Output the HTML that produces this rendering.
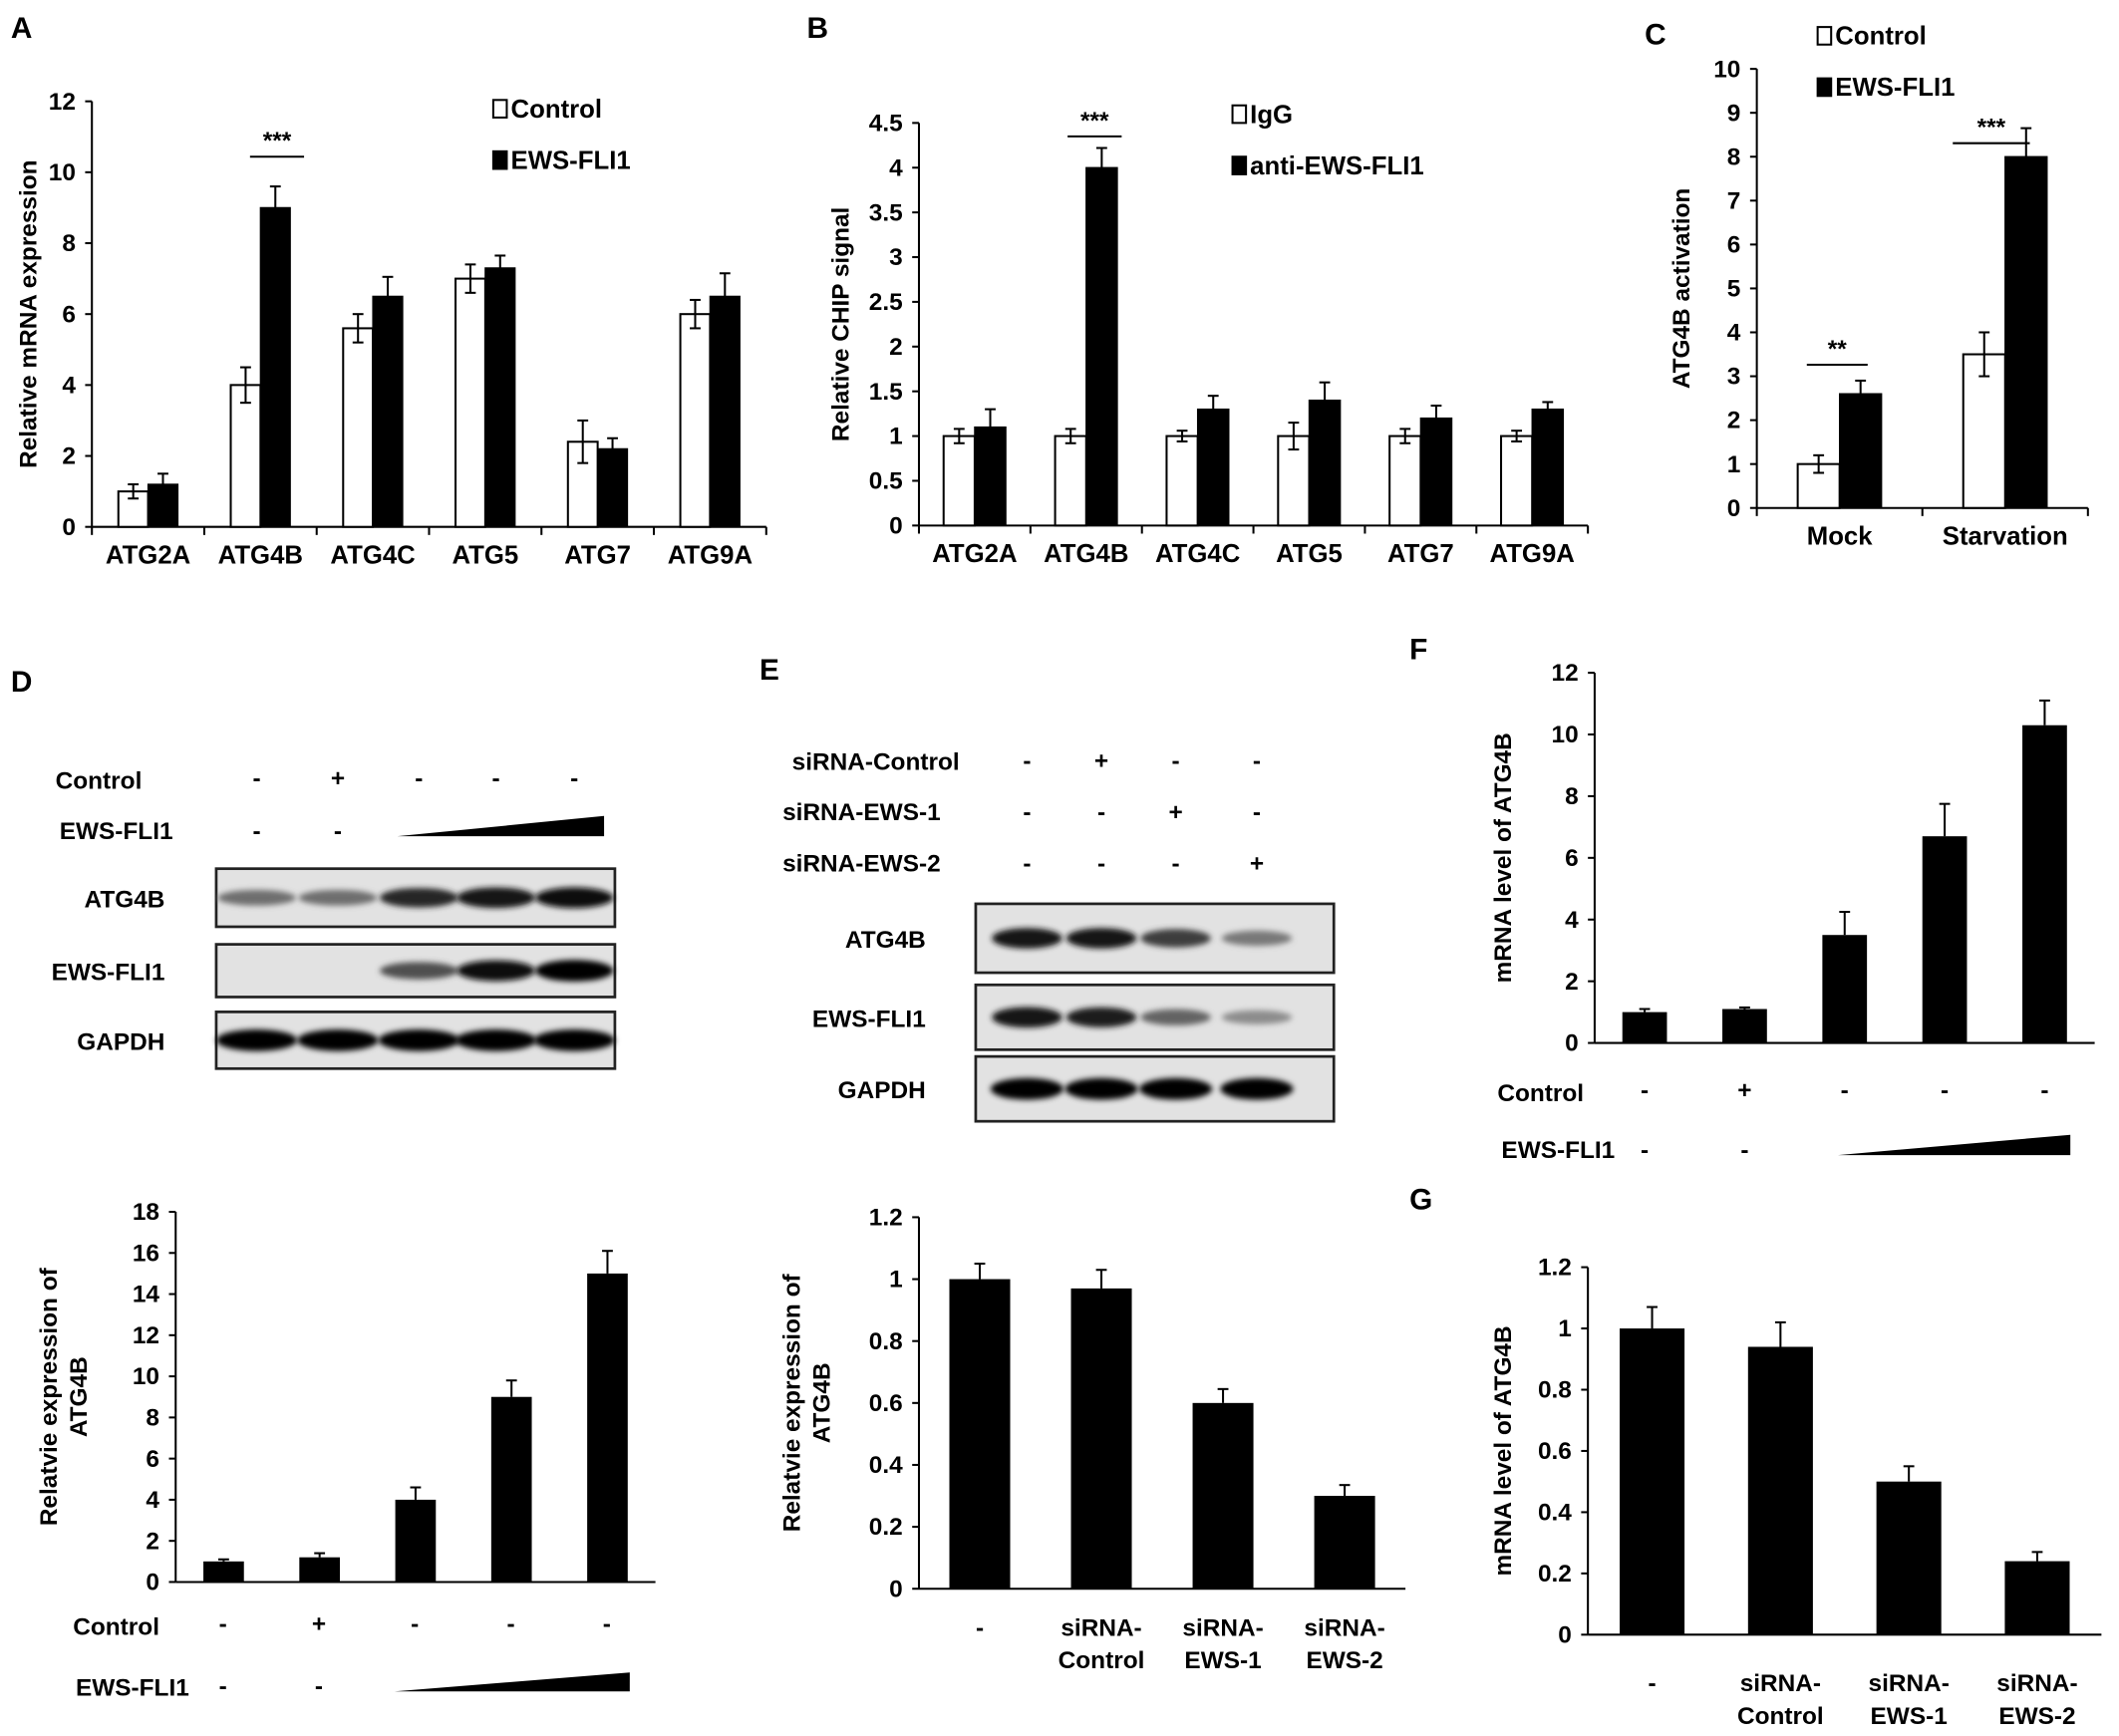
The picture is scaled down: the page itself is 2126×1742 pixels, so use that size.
<!DOCTYPE html>
<html><head><meta charset="utf-8"><style>
html,body{margin:0;padding:0;background:#fff;}
svg{display:block;font-family:"Liberation Sans",Arial,sans-serif;font-weight:bold;}
</style></head><body>
<svg id="fig" width="2126" height="1742" viewBox="0 0 1568 1285" preserveAspectRatio="none" xmlns="http://www.w3.org/2000/svg">
<defs><filter id="blur" x="-20%" y="-50%" width="140%" height="200%"><feGaussianBlur stdDeviation="2.2"/></filter></defs>
<g id="root"></g>
</svg>
<script>
// Panel A data
const aCats=["ATG2A","ATG4B","ATG4C","ATG5","ATG7","ATG9A"];
const aCtrl=[1,4,5.6,7,2.4,6];
const aEws=[1.2,9,6.5,7.3,2.2,6.5];
const aCtrlErr=[0.2,0.5,0.4,0.4,0.6,0.4];
const aEwsErr=[0.3,0.6,0.55,0.35,0.3,0.65];
const aTicks=[0,2,4,6,8,10,12];
// Panel B data
const bCats=["ATG2A","ATG4B","ATG4C","ATG5","ATG7","ATG9A"];
const bCtrl=[1,1,1,1,1,1];
const bEws=[1.1,4,1.3,1.4,1.2,1.3];
const bCtrlErr=[0.08,0.08,0.06,0.15,0.08,0.06];
const bEwsErr=[0.2,0.22,0.15,0.2,0.14,0.08];
const bTicks=[0,0.5,1,1.5,2,2.5,3,3.5,4,4.5];
// Panel C data
const cCats=["Mock","Starvation"];
const cCtrl=[1,3.5];
const cEws=[2.6,8];
const cCtrlErr=[0.2,0.5];
const cEwsErr=[0.3,0.65];
const cTicks=[0,1,2,3,4,5,6,7,8,9,10];
// Panel D chart
const dVals=[1,1.2,4,9,15];
const dErr=[0.1,0.2,0.6,0.8,1.1];
const dTicks=[0,2,4,6,8,10,12,14,16,18];
// Panel E chart
const eCats=["-","siRNA-\nControl","siRNA-\nEWS-1","siRNA-\nEWS-2"];
const eVals=[1,0.97,0.6,0.3];
const eErr=[0.05,0.06,0.045,0.035];
const eTicks=[0,0.2,0.4,0.6,0.8,1,1.2];
// Panel F chart
const fVals=[1,1.1,3.5,6.7,10.3];
const fErr=[0.1,0.05,0.75,1.05,0.8];
const fTicks=[0,2,4,6,8,10,12];
// Panel G chart
const gCats=["-","siRNA-\nControl","siRNA-\nEWS-1","siRNA-\nEWS-2"];
const gVals=[1,0.94,0.5,0.24];
const gErr=[0.07,0.08,0.05,0.03];
const gTicks=[0,0.2,0.4,0.6,0.8,1,1.2];
// Blots
const dBlotATG4B=[0.45,0.45,0.8,0.9,0.92];
const dBlotEWS=[0.03,0.03,0.6,0.92,1];
const dBlotGAPDH=[1,1,1,1,1];
const eBlotATG4B=[0.9,0.9,0.7,0.4];
const eBlotEWS=[0.9,0.85,0.5,0.3];
const eBlotGAPDH=[1,1,1,1];

const NS="http://www.w3.org/2000/svg";
const root=document.getElementById('root');
function el(tag,attrs,parent,text){const e=document.createElementNS(NS,tag);for(const k in attrs)e.setAttribute(k,attrs[k]);if(text!==undefined)e.textContent=text;(parent||root).appendChild(e);return e;}
function txt(x,y,s,size,anchor,name,parent,rot){const t=el('text',{x:x,y:y,'font-size':size,'text-anchor':anchor||'start'},parent,s);


if(rot)t.setAttribute('transform','rotate(-90 '+x+' '+y+')');return t;}

function axes(cfg){
 const g=el('g',{});
 
 
 const ys=v=>cfg.y0-(v-cfg.tMin)/(cfg.tMax-cfg.tMin)*(cfg.y0-cfg.yTop);
 el('line',{x1:cfg.x0,y1:cfg.yTop,x2:cfg.x0,y2:cfg.y0,stroke:'#000','stroke-width':1.5},g);
 el('line',{x1:cfg.x0,y1:cfg.y0,x2:cfg.x1,y2:cfg.y0,stroke:'#000','stroke-width':1.5},g);
 cfg.ticks.forEach(v=>{const y=ys(v);el('line',{x1:cfg.x0-5,y1:y,x2:cfg.x0,y2:y,stroke:'#000','stroke-width':1.5},g);
  txt(cfg.x0-12,y+6,String(v),18,'end','y-tick-label',g);});
 if(cfg.catTicks){const n=cfg.n,w=(cfg.x1-cfg.x0)/n;for(let i=0;i<=n;i++){el('line',{x1:cfg.x0+i*w,y1:cfg.y0,x2:cfg.x0+i*w,y2:cfg.y0+6,stroke:'#000','stroke-width':1.5},g);}}
 txt(cfg.ylx,(cfg.y0+cfg.yTop)/2,cfg.ylabel[0],18,'middle','y-axis-title',g,true);
 if(cfg.ylabel[1])txt(cfg.ylx+22,(cfg.y0+cfg.yTop)/2,cfg.ylabel[1],18,'middle','y-axis-title-line2',g,true);
 return {g,ys};
}
function errbar(g,x,ytop,yerr,cap){el('line',{x1:x,y1:ytop-yerr,x2:x,y2:ytop+yerr,stroke:'#000','stroke-width':1.5},g);
 el('line',{x1:x-cap,y1:ytop-yerr,x2:x+cap,y2:ytop-yerr,stroke:'#000','stroke-width':1.5},g);
 el('line',{x1:x-cap,y1:ytop+yerr,x2:x+cap,y2:ytop+yerr,stroke:'#000','stroke-width':1.5},g);}

function grouped(cfg,cats,ctrl,ctrlErr,ews,ewsErr,bw){
 const a=axes(Object.assign({n:cats.length,catTicks:true},cfg));const g=a.g,ys=a.ys;
 const w=(cfg.x1-cfg.x0)/cats.length;
 cats.forEach((c,i)=>{const cx=cfg.x0+w*(i+0.5);
  const r1=el('rect',{x:cx-bw,y:ys(ctrl[i]),width:bw,height:cfg.y0-ys(ctrl[i]),fill:'#fff',stroke:'#000','stroke-width':1.5},g);
  
  
  const r2=el('rect',{x:cx,y:ys(ews[i]),width:bw,height:cfg.y0-ys(ews[i]),fill:'#000',stroke:'#000','stroke-width':1},g);
  
  
  errbar(g,cx-bw/2,ys(ctrl[i]),ys(0)-ys(ctrlErr[i]),4);
  errbar(g,cx+bw/2,ys(ews[i]),ys(0)-ys(ewsErr[i]),4);
  txt(cx,cfg.y0+27,c,19,'middle','x-tick-label',g);
 });
 return a;
}
function simple(cfg,vals,err,bw){
 const a=axes(cfg);const g=a.g,ys=a.ys;const n=vals.length,w=(cfg.x1-cfg.x0)/n;
 vals.forEach((v,i)=>{const cx=cfg.x0+w*(i+0.5);
  const r=el('rect',{x:cx-bw/2,y:ys(v),width:bw,height:cfg.y0-ys(v),fill:'#000'},g);
  
  
  const ey=ys(v)-(ys(0)-ys(err[i]));
  el('line',{x1:cx,y1:ys(v),x2:cx,y2:ey,stroke:'#000','stroke-width':1.5},g);
  el('line',{x1:cx-4,y1:ey,x2:cx+4,y2:ey,stroke:'#000','stroke-width':1.5},g);
 });
 return a;
}
function legend(x,y,labels,name){const g=el('g',{});
 
 
 labels.forEach((l,i)=>{el('rect',{x:x,y:y+i*38-11,width:10,height:13,fill:i?'#000':'#fff',stroke:'#000','stroke-width':1.5},g);
  txt(x+13,y+i*38+2,l,19,'start','legend-entry',g);});}
function sig(x1,x2,y,s,name){el('line',{x1:x1,y1:y,x2:x2,y2:y,stroke:'#000','stroke-width':1.5});txt((x1+x2)/2,y-6,s,18,'middle',name);}

// Panel labels
txt(8,28,"A",22,'start','panel-label-a');txt(597,28,"B",22,'start','panel-label-b');txt(1217,33,"C",22,'start','panel-label-c');
txt(8,512,"D",22,'start','panel-label-d');txt(562,503,"E",22,'start','panel-label-e');txt(1043,488,"F",22,'start','panel-label-f');txt(1043,895,"G",22,'start','panel-label-g');

// A
grouped({name:'chart-a',x0:68,x1:567,y0:390,yTop:75,tMin:0,tMax:12,ticks:aTicks,ylx:27,ylabel:["Relative mRNA expression"]},aCats,aCtrl,aCtrlErr,aEws,aEwsErr,22);
legend(365,85,["Control","EWS-FLI1"],'legend-a');
sig(185,225,116,"***",'significance-a');
// B
grouped({name:'chart-b',x0:680,x1:1175,y0:389,yTop:91,tMin:0,tMax:4.5,ticks:bTicks,ylx:628,ylabel:["Relative CHIP signal"]},bCats,bCtrl,bCtrlErr,bEws,bEwsErr,23);
legend(912,89,["IgG","anti-EWS-FLI1"],'legend-b');
sig(790,830,101,"***",'significance-b');
// C
grouped({name:'chart-c',x0:1300,x1:1545,y0:376,yTop:51,tMin:0,tMax:10,ticks:cTicks,ylx:1250,ylabel:["ATG4B activation"]},cCats,cCtrl,cCtrlErr,cEws,cEwsErr,31);
legend(1345,31,["Control","EWS-FLI1"],'legend-c');
sig(1337,1382,270,"**",'significance-c');sig(1445,1502,106,"***",'significance-c2');

// Blots
function blot(x,y,w,h,centers,ints,bw,name,label,lx){const g=el('g',{});
 
 
 el('rect',{x:x,y:y,width:w,height:h,fill:'#e2e2e2',stroke:'#222','stroke-width':2},g);
 centers.forEach((c,i)=>{const v=ints[i];if(v<0.05)return;const gr=Math.round(200*(1-v));
  el('ellipse',{cx:c,cy:y+h/2,rx:bw/2,ry:4+4*v,fill:'rgb('+gr+','+gr+','+gr+')',filter:'url(#blur)'},g);});
 txt(lx,y+h/2+7,label,18,'end','blot-label',g);}
const dL=[190,250,310,367,425];
blot(160,643,295,43,dL,dBlotATG4B,58,'blot-d-atg4b','ATG4B',122);
blot(160,699,295,39,dL,dBlotEWS,58,'blot-d-ews-fli1','EWS-FLI1',122);
blot(160,749,295,42,dL,dBlotGAPDH,60,'blot-d-gapdh','GAPDH',122);
txt(105,584,"Control",18,'end','row-label-control-d');txt(128,621,"EWS-FLI1",18,'end','row-label-ews-d');
["-","+","-","-","-"].forEach((s,i)=>txt(dL[i],582,s,18,'middle','sign'));
["-","-"].forEach((s,i)=>txt(dL[i],621,s,18,'middle','sign'));
el('polygon',{points:'294,619 447,604 447,619',fill:'#000'});
const eL=[760,815,870,930];
blot(722,669,265,51,eL,eBlotATG4B,52,'blot-e-atg4b','ATG4B',685);
blot(722,729,265,48,eL,eBlotEWS,52,'blot-e-ews-fli1','EWS-FLI1',685);
blot(722,782,265,48,eL,eBlotGAPDH,54,'blot-e-gapdh','GAPDH',685);
txt(710,570,"siRNA-Control",18,'end','row-label-sirna-control');txt(696,607,"siRNA-EWS-1",18,'end','row-label-sirna-ews1');txt(696,645,"siRNA-EWS-2",18,'end','row-label-sirna-ews2');
[["-","+","-","-"],["-","-","+","-"],["-","-","-","+"]].forEach((r,j)=>r.forEach((s,i)=>txt(eL[i],569+j*38,s,18,'middle','sign')));

// D chart
simple({name:'chart-d',x0:130,x1:485,y0:1171,yTop:897,tMin:0,tMax:18,ticks:dTicks,ylx:42,ylabel:["Relatvie expression of","ATG4B"]},dVals,dErr,30);
txt(118,1210,"Control",18,'end','row-label-control-dchart');txt(140,1255,"EWS-FLI1",18,'end','row-label-ews-dchart');
["-","+","-","-","-"].forEach((s,i)=>txt(165+i*71,1208,s,18,'middle','sign'));
["-","-"].forEach((s,i)=>txt(165+i*71,1254,s,18,'middle','sign'));
el('polygon',{points:'292,1252 466,1238 466,1252',fill:'#000'});
// E chart
simple({name:'chart-e',x0:680,x1:1040,y0:1176,yTop:901,tMin:0,tMax:1.2,ticks:eTicks,ylx:592,ylabel:["Relatvie expression of","ATG4B"]},eVals,eErr,45);
eCats.forEach((c,i)=>{const cx=680+90*(i+0.5);c.split("\n").forEach((l,j)=>txt(cx,1211+j*24,l,18,'middle','x-tick-label'));});
// F chart
simple({name:'chart-f',x0:1180,x1:1550,y0:772,yTop:498,tMin:0,tMax:12,ticks:fTicks,ylx:1118,ylabel:["mRNA level of ATG4B"]},fVals,fErr,33);
txt(1172,815,"Control",18,'end','row-label-control-f');txt(1195,857,"EWS-FLI1",18,'end','row-label-ews-f');
["-","+","-","-","-"].forEach((s,i)=>txt(1217+i*74,813,s,18,'middle','sign'));
["-","-"].forEach((s,i)=>txt(1217+i*74,857,s,18,'middle','sign'));
el('polygon',{points:'1360,855 1532,840 1532,855',fill:'#000'});
// G chart
simple({name:'chart-g',x0:1175,x1:1555,y0:1210,yTop:938,tMin:0,tMax:1.2,ticks:gTicks,ylx:1118,ylabel:["mRNA level of ATG4B"]},gVals,gErr,48);
gCats.forEach((c,i)=>{const cx=1175+95*(i+0.5);c.split("\n").forEach((l,j)=>txt(cx,1252+j*24,l,18,'middle','x-tick-label'));});
</script>
</body></html>
